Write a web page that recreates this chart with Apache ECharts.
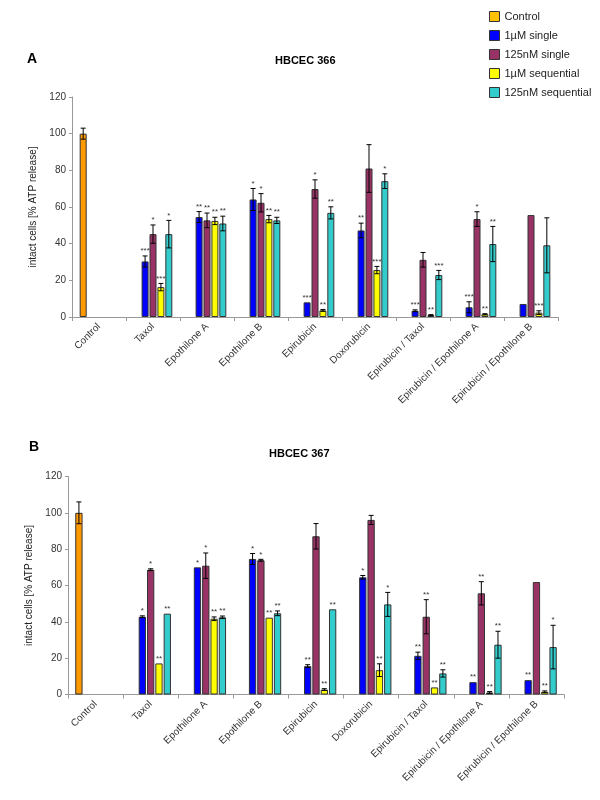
<!DOCTYPE html>
<html>
<head>
<meta charset="utf-8">
<script src="https://cdn.jsdelivr.net/npm/echarts@6/dist/echarts.min.js"></script>
<style>html,body{margin:0;padding:0;background:#fff}#c{width:600px;height:800px}</style>
</head>
<body>
<div id="c"></div>
<script>
const categories = ['Control','Taxol','Epothilone A','Epothilone B','Epirubicin','Doxorubicin','Epirubicin / Taxol','Epirubicin / Epothilone A','Epirubicin / Epothilone B'];
const seriesNames = ['Control','1µM single','125nM single','1µM sequential','125nM sequential'];
const yTicks = [0,20,40,60,80,100,120];

// Panel A: HBCEC 366
const aControl      = [100, null, null, null, null, null, null, null, null];
const aControlErr   = [3, 0, 0, 0, 0, 0, 0, 0, 0];
const aSingle1      = [null, 30.3, 54.5, 64.1, 8.0, 47.2, 3.4, 5.3, 7.1];
const aSingle1Err   = [0, 3, 3, 6, 0, 4, 0.5, 3, 0];
const aSingle125    = [null, 45.2, 52.7, 62.3, 69.8, 81, 31.2, 53.4, 55.6];
const aSingle125Err = [0, 5, 4, 5, 5, 13, 4, 4, 0];
const aSeq1         = [null, 16.3, 52.4, 53.4, 3.6, 25.6, 1.0, 1.5, 2.4];
const aSeq1Err      = [0, 2, 2, 2, 0.5, 2, 0.3, 0.3, 1];
const aSeq125       = [null, 45.2, 51, 52.7, 56.8, 74.1, 22.9, 39.8, 39.1];
const aSeq125Err    = [0, 7.5, 4, 1.7, 3.3, 4, 2.5, 9.6, 15];
const aSigControl   = ['', '', '', '', '', '', '', '', ''];
const aSigSingle1   = ['', '***', '**', '*', '***', '**', '***', '***', ''];
const aSigSingle125 = ['', '*', '**', '*', '*', '', '', '*', ''];
const aSigSeq1      = ['', '***', '**', '**', '**', '***', '**', '**', '***'];
const aSigSeq125    = ['', '*', '**', '**', '**', '*', '***', '**', ''];

// Panel B: HBCEC 367
const bControl      = [100, null, null, null, null, null, null, null, null];
const bControlErr   = [6, 0, 0, 0, 0, 0, 0, 0, 0];
const bSingle1      = [null, 42.8, 70, 74.6, 15.6, 64.5, 21.3, 6.8, 7.9];
const bSingle1Err   = [0, 0.5, 0, 3, 0.8, 1, 2, 0, 0];
const bSingle125    = [null, 68.7, 70.9, 73.9, 87.1, 96.1, 42.8, 55.7, 61.9];
const bSingle125Err = [0, 0.5, 7, 0.5, 7, 2.5, 9.4, 6.4, 0];
const bSeq1         = [null, 17.1, 41.7, 42.3, 2.7, 13.4, 3.9, 1.1, 1.5];
const bSeq1Err      = [0, 0, 1, 0, 0.5, 3.5, 0, 0.5, 0.5];
const bSeq125       = [null, 44.5, 42.5, 44.7, 46.9, 49.6, 11.6, 27.4, 26.1];
const bSeq125Err    = [0, 0, 0.7, 1.3, 0, 6.6, 2, 7.4, 12];
const bSigControl   = ['', '', '', '', '', '', '', '', ''];
const bSigSingle1   = ['', '*', '*', '*', '**', '*', '**', '**', '**'];
const bSigSingle125 = ['', '*', '*', '*', '', '', '**', '**', ''];
const bSigSeq1      = ['', '**', '**', '**', '**', '**', '**', '**', '**'];
const bSigSeq125    = ['', '**', '**', '**', '**', '*', '**', '**', '*'];

const colors = ['#FF9900', '#0000FF', '#993366', '#FFFF00', '#33CCCC'];
const legendColors = ['#FFC000', '#0000FF', '#993366', '#FFFF00', '#33CCCC'];
const FONT = 'Liberation Sans, Arial, sans-serif';

const panels = [
  { vals: [aControl, aSingle1, aSingle125, aSeq1, aSeq125],
    errs: [aControlErr, aSingle1Err, aSingle125Err, aSeq1Err, aSeq125Err],
    sigs: [aSigControl, aSigSingle1, aSigSingle125, aSigSeq1, aSigSeq125],
    barWidth: 7, barGap: 0.13 },
  { vals: [bControl, bSingle1, bSingle125, bSeq1, bSeq125],
    errs: [bControlErr, bSingle1Err, bSingle125Err, bSeq1Err, bSeq125Err],
    sigs: [bSigControl, bSigSingle1, bSigSingle125, bSigSeq1, bSigSeq125],
    barWidth: 7.3, barGap: 0.14 }
];

const series = [];
panels.forEach((p, g) => {
  p.vals.forEach((arr, s) => {
    series.push({
      type: 'bar', name: seriesNames[s], xAxisIndex: g, yAxisIndex: g,
      data: arr, barWidth: p.barWidth, barGap: (p.barGap * 100) + '%',
      itemStyle: { color: colors[s], borderColor: '#333', borderWidth: 1 },
      emphasis: { disabled: true }, animation: false
    });
  });
  const errData = [], sigText = [];
  p.vals.forEach((arr, s) => {
    arr.forEach((v, c) => {
      if (v === null) return;
      errData.push([c, s, v, p.errs[s][c]]);
      sigText.push(p.sigs[s][c]);
    });
  });
  const step = p.barWidth * (1 + p.barGap);
  series.push({
    type: 'custom', xAxisIndex: g, yAxisIndex: g, z: 5, animation: false, silent: true,
    encode: { x: 0, y: 2 }, data: errData, clip: false,
    renderItem: function (params, api) {
      const cat = api.value(0), slot = api.value(1), v = api.value(2), e = api.value(3);
      const base = api.coord([cat, v]);
      const x = base[0] + (slot - 2) * step;
      const children = [];
      let topY = base[1];
      if (e > 0) {
        const t = api.coord([cat, v + e])[1];
        const b = api.coord([cat, Math.max(v - e, 0)])[1];
        topY = t;
        const st = { stroke: '#000', lineWidth: 1 };
        children.push({ type: 'line', shape: { x1: x, y1: t, x2: x, y2: b }, style: st });
        children.push({ type: 'line', shape: { x1: x - 2.5, y1: t, x2: x + 2.5, y2: t }, style: st });
        children.push({ type: 'line', shape: { x1: x - 2.5, y1: b, x2: x + 2.5, y2: b }, style: st });
      }
      const s = sigText[params.dataIndex];
      if (s) {
        children.push({ type: 'text', style: { text: s, x: x, y: topY - 1, align: 'center', verticalAlign: 'bottom',
          fontSize: 8, fontFamily: FONT, fill: '#333' } });
      }
      return { type: 'group', children: children };
    }
  });
});

const grids = [
  { left: 72, right: 42, top: 97, height: 220 },
  { left: 68, right: 36, top: 476.5, height: 218 }
];

const xAxes = grids.map((_, g) => ({
  type: 'category', gridIndex: g, data: categories,
  axisLine: { lineStyle: { color: '#999' } },
  axisTick: { show: true, length: 4, lineStyle: { color: '#999' } },
  axisLabel: { rotate: 45, interval: 0, fontSize: 10, color: '#333', fontFamily: FONT, margin: 8 }
}));
const yAxes = grids.map((_, g) => ({
  type: 'value', gridIndex: g, min: yTicks[0], max: yTicks[yTicks.length - 1], interval: 20,
  name: 'intact cells [% ATP release]', nameLocation: 'middle', nameGap: g === 0 ? 30 : 29,
  nameTextStyle: { fontSize: 10, color: '#222', fontFamily: FONT },
  axisLine: { show: true, lineStyle: { color: '#999' } },
  axisTick: { show: true, length: 3, lineStyle: { color: '#999' } },
  splitLine: { show: false },
  axisLabel: { fontSize: 10, color: '#333', fontFamily: FONT, margin: 6 }
}));

const chart = echarts.init(document.getElementById('c'), null, { renderer: 'canvas' });
chart.setOption({
  backgroundColor: '#fff',
  animation: false,
  title: [
    { text: 'A', left: 22, top: 47, textStyle: { fontSize: 14, fontWeight: 'bold', color: '#000', fontFamily: FONT } },
    { text: 'HBCEC 366', left: 270, top: 50, textStyle: { fontSize: 11, fontWeight: 'bold', color: '#000', fontFamily: FONT } },
    { text: 'B', left: 24, top: 435, textStyle: { fontSize: 14, fontWeight: 'bold', color: '#000', fontFamily: FONT } },
    { text: 'HBCEC 367', left: 264, top: 443, textStyle: { fontSize: 11, fontWeight: 'bold', color: '#000', fontFamily: FONT } }
  ],
  legend: {
    orient: 'vertical', left: 484, top: 6, itemWidth: 10, itemHeight: 10, itemGap: 8,
    textStyle: { fontSize: 11, color: '#222', fontFamily: FONT },
    data: seriesNames.map((n, i) => ({ name: n, icon: 'rect', itemStyle: { color: legendColors[i], borderColor: '#333', borderWidth: 1 } }))
  },
  grid: grids,
  xAxis: xAxes,
  yAxis: yAxes,
  series: series
});
</script>
</body>
</html>
